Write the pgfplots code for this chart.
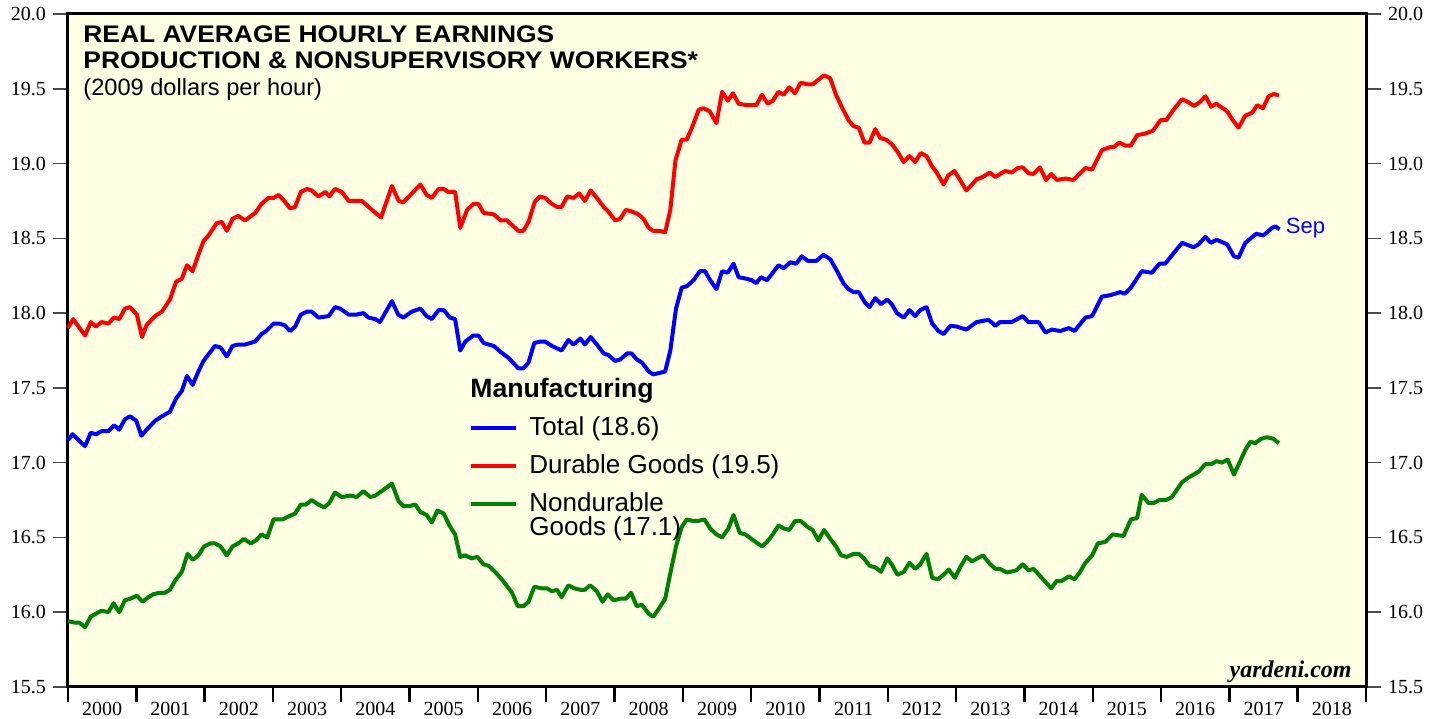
\documentclass[border=0pt]{standalone}
\usepackage{pgfplots}
\pgfplotsset{compat=1.18}
\usepackage{fontspec}
\setmainfont{Liberation Sans}
\newfontfamily\tnr{Liberation Serif}
\newfontfamily\titlefont{Liberation Sans}[FakeStretch=1.1]
\definecolor{bgy}{RGB}{255,255,228}
\definecolor{tot}{RGB}{0,0,255}
\definecolor{dur}{RGB}{255,0,0}
\definecolor{ndur}{RGB}{0,128,0}
\begin{document}
\begin{tikzpicture}
\begin{axis}[name=ax, scale only axis, width=649pt, height=336.5pt,
  xmin=0, xmax=228, ymin=15.5, ymax=20,
  axis background/.style={fill=bgy},
  axis line style={line width=1.5pt},
  major tick length=7.5pt,
  xtick={0,12,...,228},
  xticklabels={2000,2001,2002,2003,2004,2005,2006,2007,2008,2009,2010,2011,2012,2013,2014,2015,2016,2017,2018},
  x tick label as interval,
  xtick pos=bottom, tick align=outside,
  x tick style={line width=1.2pt, black},
  xticklabel style={font=\tnr\fontsize{10pt}{12pt}\selectfont, yshift=3.5pt},
  ytick={15.5,16,...,20},
  ytick pos=both, yticklabel pos=left,
  y tick style={line width=0.8pt, black!70},
  yticklabel style={font=\tnr\fontsize{10pt}{12pt}\selectfont, /pgf/number format/fixed, /pgf/number format/fixed zerofill, /pgf/number format/precision=1, /pgf/number format/assume math mode=true},
  clip=false,
  every axis plot/.append style={line width=2pt, line join=round},
]
\addplot[dur] coordinates {
(0,17.90)(0.9,17.96)(3.0,17.85)(4.0,17.94)(4.9,17.91)(5.9,17.94)(7.1,17.93)(8.1,17.97)(9.0,17.96)(10.0,18.03)(10.9,18.04)(12.1,17.99)(13.0,17.84)(13.8,17.92)(15.3,17.98)(16.5,18.01)(17.9,18.09)(19.0,18.21)(20.0,18.23)(20.9,18.32)(21.9,18.28)(22.9,18.39)(23.8,18.48)(24.7,18.52)(26.1,18.60)(27.0,18.61)(27.9,18.55)(28.9,18.63)(29.9,18.65)(31.1,18.62)(32.9,18.67)(34.0,18.73)(35.2,18.77)(36.1,18.77)(37.0,18.79)(38.0,18.75)(39.0,18.70)(39.9,18.71)(40.9,18.81)(42.0,18.83)(42.8,18.82)(44.0,18.78)(45.2,18.81)(45.9,18.78)(46.9,18.83)(48.1,18.81)(49.3,18.75)(51.6,18.75)(52.8,18.71)(54.0,18.67)(55.0,18.64)(56.9,18.85)(58.1,18.75)(58.9,18.74)(60.4,18.80)(61.9,18.86)(63.0,18.79)(63.9,18.77)(65.1,18.83)(66.0,18.83)(66.8,18.81)(68.0,18.81)(68.9,18.57)(70.1,18.69)(71.2,18.73)(72.1,18.73)(73.0,18.67)(74.8,18.66)(76.0,18.62)(77.1,18.62)(79.1,18.55)(80.0,18.55)(80.9,18.61)(82.0,18.745)(82.9,18.78)(83.8,18.77)(85.0,18.73)(85.9,18.71)(86.7,18.71)(87.7,18.78)(88.8,18.77)(89.8,18.80)(90.8,18.75)(91.8,18.82)(92.9,18.77)(94.1,18.71)(94.9,18.68)(96.1,18.62)(97.0,18.63)(98.0,18.69)(99.0,18.68)(100.2,18.66)(101.1,18.63)(102.0,18.57)(102.8,18.55)(103.9,18.55)(104.9,18.54)(105.8,18.69)(106.7,19.02)(107.8,19.16)(108.7,19.16)(109.6,19.24)(110.8,19.36)(111.6,19.37)(112.7,19.35)(113.9,19.27)(114.9,19.48)(115.9,19.42)(116.8,19.47)(117.8,19.40)(119.2,19.39)(120.9,19.39)(121.9,19.46)(122.9,19.40)(123.8,19.42)(124.8,19.48)(125.7,19.46)(126.7,19.51)(127.7,19.47)(128.7,19.54)(129.9,19.53)(130.8,19.53)(131.8,19.56)(132.8,19.59)(133.9,19.57)(134.9,19.46)(135.9,19.38)(137.1,19.29)(138.0,19.25)(138.9,19.24)(139.9,19.14)(140.8,19.14)(141.8,19.23)(142.7,19.17)(143.7,19.16)(144.7,19.13)(145.7,19.08)(146.8,19.01)(147.8,19.05)(148.8,19.01)(149.8,19.07)(150.8,19.05)(151.8,18.98)(152.6,18.94)(153.8,18.86)(154.6,18.92)(155.7,18.95)(156.7,18.89)(157.8,18.82)(158.8,18.86)(159.6,18.895)(160.7,18.91)(161.9,18.94)(162.9,18.91)(164.6,18.95)(165.8,18.94)(166.8,18.97)(167.7,18.975)(168.7,18.935)(169.6,18.93)(170.7,18.975)(171.8,18.89)(172.7,18.93)(173.7,18.89)(175.2,18.90)(176.6,18.89)(178.7,18.97)(179.9,18.96)(181.6,19.09)(183.1,19.11)(183.7,19.11)(184.7,19.14)(185.7,19.12)(186.7,19.12)(187.8,19.19)(189.2,19.20)(190.6,19.22)(191.9,19.29)(192.9,19.29)(194.2,19.36)(195.7,19.43)(196.8,19.41)(197.8,19.385)(198.8,19.41)(199.8,19.45)(200.8,19.38)(201.7,19.40)(203.6,19.35)(204.6,19.29)(205.6,19.24)(206.8,19.32)(208.0,19.34)(208.9,19.39)(209.9,19.37)(210.9,19.45)(211.8,19.465)(212.7,19.455)
};
\addplot[tot] coordinates {
(0,17.15)(0.8,17.19)(3.0,17.11)(4.0,17.20)(4.9,17.19)(5.9,17.21)(7.1,17.21)(8.1,17.25)(9.0,17.22)(10.0,17.29)(10.9,17.31)(12.0,17.28)(12.9,17.18)(13.8,17.22)(15.3,17.28)(16.5,17.31)(17.9,17.34)(19.0,17.43)(20.0,17.48)(20.9,17.58)(21.9,17.52)(22.9,17.61)(23.8,17.68)(24.8,17.73)(25.8,17.78)(26.8,17.77)(27.9,17.71)(28.9,17.78)(29.9,17.79)(31.1,17.79)(32.9,17.81)(34.0,17.86)(34.8,17.88)(36.1,17.93)(37.0,17.93)(38.0,17.92)(39.0,17.88)(39.9,17.91)(40.9,17.99)(42.0,18.01)(42.8,18.01)(44.0,17.97)(45.8,17.98)(46.9,18.04)(47.8,18.03)(49.3,17.99)(50.7,17.99)(51.9,18.00)(52.8,17.97)(54.0,17.96)(54.8,17.94)(56.9,18.08)(58.0,17.99)(58.9,17.97)(60.4,18.01)(61.9,18.03)(63.0,17.98)(63.9,17.96)(65.1,18.02)(66.0,18.02)(67.1,17.97)(68.0,17.96)(68.9,17.75)(69.8,17.81)(71.2,17.85)(72.1,17.85)(73.0,17.80)(74.8,17.78)(76.0,17.74)(77.4,17.70)(79.1,17.63)(80.0,17.63)(80.9,17.67)(81.9,17.80)(83.0,17.81)(83.8,17.81)(85.0,17.78)(86.7,17.75)(87.9,17.82)(88.8,17.79)(90.0,17.83)(90.8,17.79)(91.8,17.84)(92.9,17.79)(94.1,17.73)(94.9,17.72)(96.1,17.68)(97.0,17.69)(98.2,17.73)(99.0,17.73)(99.9,17.69)(100.8,17.67)(102.0,17.61)(102.8,17.59)(103.9,17.60)(104.9,17.61)(105.8,17.75)(106.8,18.03)(107.8,18.17)(108.7,18.18)(109.9,18.22)(111.0,18.28)(111.9,18.28)(112.8,18.22)(113.9,18.16)(114.9,18.28)(115.9,18.27)(116.9,18.33)(117.8,18.24)(119.2,18.23)(120.1,18.22)(120.9,18.20)(121.7,18.24)(122.8,18.22)(123.6,18.26)(124.8,18.32)(125.7,18.30)(126.9,18.34)(127.9,18.33)(128.9,18.38)(129.9,18.35)(131.5,18.35)(132.7,18.39)(133.9,18.36)(135.1,18.28)(136.2,18.20)(137.1,18.16)(138.0,18.14)(138.9,18.14)(140.0,18.07)(140.8,18.04)(141.8,18.10)(142.8,18.06)(143.9,18.09)(144.7,18.06)(145.6,18.00)(146.8,17.97)(147.8,18.02)(148.8,17.98)(149.7,18.02)(150.8,18.04)(151.8,17.93)(152.9,17.88)(153.8,17.86)(155.0,17.915)(156.1,17.91)(157.8,17.89)(159.6,17.94)(161.7,17.955)(162.9,17.915)(163.7,17.94)(165.8,17.94)(167.7,17.98)(168.7,17.94)(170.5,17.94)(171.7,17.87)(172.8,17.89)(174.3,17.88)(175.8,17.90)(176.8,17.88)(178.7,17.97)(179.9,17.98)(181.6,18.11)(183.1,18.12)(184.8,18.14)(185.7,18.13)(186.7,18.17)(188.6,18.28)(190.4,18.27)(191.7,18.33)(192.7,18.33)(195.7,18.47)(197.7,18.44)(198.6,18.46)(199.8,18.51)(200.7,18.47)(201.8,18.49)(203.6,18.46)(204.8,18.38)(205.6,18.37)(206.8,18.47)(208.7,18.53)(210.0,18.52)(211.5,18.57)(212.1,18.58)(212.8,18.56)
};
\addplot[ndur] coordinates {
(0,15.94)(1.2,15.93)(2.0,15.93)(3.0,15.90)(4.0,15.97)(4.9,15.99)(5.9,16.01)(7.1,16.00)(8.0,16.06)(9.0,16.00)(10.0,16.08)(10.9,16.09)(12.1,16.11)(13.1,16.07)(14.1,16.10)(15.0,16.12)(16.1,16.13)(17.0,16.13)(17.9,16.15)(18.8,16.21)(20.0,16.27)(21.0,16.39)(21.9,16.35)(22.9,16.38)(23.9,16.44)(25.0,16.46)(25.8,16.46)(26.8,16.44)(27.9,16.38)(28.9,16.44)(29.9,16.46)(30.9,16.49)(32.1,16.46)(33.0,16.48)(34.0,16.52)(35.0,16.50)(36.1,16.62)(37.7,16.62)(38.7,16.64)(39.9,16.66)(40.9,16.72)(41.8,16.72)(42.8,16.75)(44.0,16.72)(45.0,16.70)(45.9,16.73)(46.9,16.80)(48.1,16.77)(49.6,16.78)(50.7,16.77)(51.9,16.81)(53.1,16.77)(54.0,16.78)(55.1,16.81)(56.9,16.86)(58.1,16.74)(58.9,16.71)(60.0,16.71)(61.0,16.72)(61.9,16.67)(63.0,16.65)(63.9,16.60)(64.9,16.68)(66.0,16.66)(67.0,16.58)(68.0,16.52)(68.9,16.37)(69.8,16.38)(70.9,16.36)(71.9,16.37)(73.0,16.32)(73.9,16.31)(75.0,16.27)(76.2,16.22)(78.0,16.13)(79.0,16.04)(80.0,16.04)(80.9,16.07)(81.9,16.17)(83.2,16.16)(84.1,16.16)(85.0,16.14)(85.9,16.15)(86.7,16.10)(87.9,16.18)(88.9,16.16)(90.0,16.15)(90.8,16.15)(91.7,16.18)(92.9,16.14)(93.9,16.07)(94.8,16.12)(95.8,16.08)(97.0,16.09)(98.0,16.09)(98.9,16.13)(99.9,16.04)(100.8,16.05)(102.0,15.99)(102.8,15.97)(103.9,16.03)(104.9,16.09)(105.8,16.26)(106.8,16.44)(107.8,16.57)(108.7,16.62)(109.8,16.61)(110.6,16.61)(111.8,16.62)(112.8,16.56)(113.9,16.52)(114.9,16.50)(116.0,16.56)(116.9,16.65)(118.0,16.53)(119.0,16.52)(120.4,16.48)(121.9,16.44)(122.8,16.47)(123.8,16.52)(124.8,16.58)(125.7,16.56)(126.7,16.55)(127.7,16.61)(128.7,16.61)(129.9,16.57)(130.8,16.55)(131.8,16.48)(132.8,16.55)(133.9,16.49)(134.9,16.44)(135.8,16.38)(136.8,16.37)(138.0,16.39)(138.9,16.39)(139.8,16.36)(140.8,16.31)(141.8,16.30)(142.8,16.27)(143.9,16.36)(144.7,16.32)(145.7,16.25)(146.8,16.27)(147.8,16.33)(148.8,16.29)(149.7,16.32)(150.8,16.39)(151.8,16.23)(152.8,16.22)(153.8,16.25)(154.7,16.285)(155.8,16.23)(156.7,16.30)(157.8,16.37)(158.8,16.34)(160.7,16.38)(162.0,16.32)(162.9,16.29)(163.7,16.29)(164.9,16.265)(166.6,16.28)(167.7,16.32)(168.7,16.28)(169.6,16.29)(170.8,16.24)(172.7,16.16)(173.7,16.21)(174.6,16.21)(175.8,16.24)(176.8,16.22)(177.7,16.265)(178.7,16.33)(179.9,16.38)(180.9,16.46)(182.2,16.47)(183.5,16.52)(185.4,16.51)(186.7,16.62)(187.8,16.63)(188.6,16.785)(189.8,16.73)(190.7,16.73)(191.7,16.75)(192.9,16.75)(193.9,16.77)(195.7,16.87)(196.8,16.90)(198.6,16.94)(199.8,16.99)(200.8,16.99)(201.8,17.01)(202.7,17.00)(203.7,17.02)(204.8,16.92)(205.6,16.985)(206.8,17.085)(207.7,17.14)(208.5,17.13)(209.6,17.16)(210.6,17.17)(211.7,17.16)(212.7,17.13)
};
\node[anchor=west, inner sep=0pt, text=tot, font=\fontsize{11pt}{12pt}\selectfont, xshift=3pt] at (axis cs:212.8,18.57) {Sep};
\end{axis}
\begin{axis}[scale only axis, width=649pt, height=336.5pt,
  xmin=0, xmax=228, ymin=15.5, ymax=20,
  axis line style={draw=none},
  major tick length=7.5pt,
  xtick=\empty,
  ytick={15.5,16,...,20},
  ytick pos=right, yticklabel pos=right, tick align=outside,
  y tick style={draw=none},
  yticklabel style={font=\tnr\fontsize{10pt}{12pt}\selectfont, /pgf/number format/fixed, /pgf/number format/fixed zerofill, /pgf/number format/precision=1, /pgf/number format/assume math mode=true},
]
\addplot[draw=none] coordinates {(0,15.5)};
\end{axis}
% title and notes
\node[anchor=base west, inner sep=0pt, font=\titlefont\bfseries\fontsize{12pt}{14pt}\selectfont] at ([shift={(7.5pt,-14.5pt)}]ax.north west) {REAL AVERAGE HOURLY EARNINGS};
\node[anchor=base west, inner sep=0pt, font=\titlefont\bfseries\fontsize{12pt}{14pt}\selectfont] at ([shift={(7.5pt,-27.5pt)}]ax.north west) {PRODUCTION \& NONSUPERVISORY WORKERS*};
\node[anchor=base west, inner sep=0pt, font=\fontsize{11.8pt}{14pt}\selectfont] at ([shift={(7.5pt,-41pt)}]ax.north west) {(2009 dollars per hour)};
\node[anchor=base east, inner sep=0pt, font=\tnr\bfseries\itshape\fontsize{12pt}{14pt}\selectfont] at ([shift={(-7pt,4.5pt)}]ax.south east) {yardeni.com};
% legend
\node[anchor=base west, inner sep=0pt, font=\bfseries\fontsize{13.3pt}{15pt}\selectfont] at ([shift={(201pt,-192pt)}]ax.north west) {Manufacturing};
\draw[tot, line width=2pt] ([shift={(201.5pt,-207pt)}]ax.north west) -- ++(22.5pt,0);
\draw[dur, line width=2pt] ([shift={(201.5pt,-226pt)}]ax.north west) -- ++(22.5pt,0);
\draw[ndur, line width=2pt] ([shift={(201.5pt,-245pt)}]ax.north west) -- ++(22.5pt,0);
\node[anchor=base west, inner sep=0pt, font=\fontsize{13pt}{15pt}\selectfont] at ([shift={(230.5pt,-211pt)}]ax.north west) {Total (18.6)};
\node[anchor=base west, inner sep=0pt, font=\fontsize{13pt}{15pt}\selectfont] at ([shift={(230.5pt,-230pt)}]ax.north west) {Durable Goods (19.5)};
\node[anchor=base west, inner sep=0pt, font=\fontsize{13pt}{15pt}\selectfont] at ([shift={(230.5pt,-249pt)}]ax.north west) {Nondurable};
\node[anchor=base west, inner sep=0pt, font=\fontsize{13pt}{15pt}\selectfont] at ([shift={(230.5pt,-261pt)}]ax.north west) {Goods (17.1)};
\pgfresetboundingbox
\path[use as bounding box] ([shift={(-34pt,-16pt)}]ax.south west) rectangle ([shift={(37.5pt,7pt)}]ax.north east);
\end{tikzpicture}
\end{document}
